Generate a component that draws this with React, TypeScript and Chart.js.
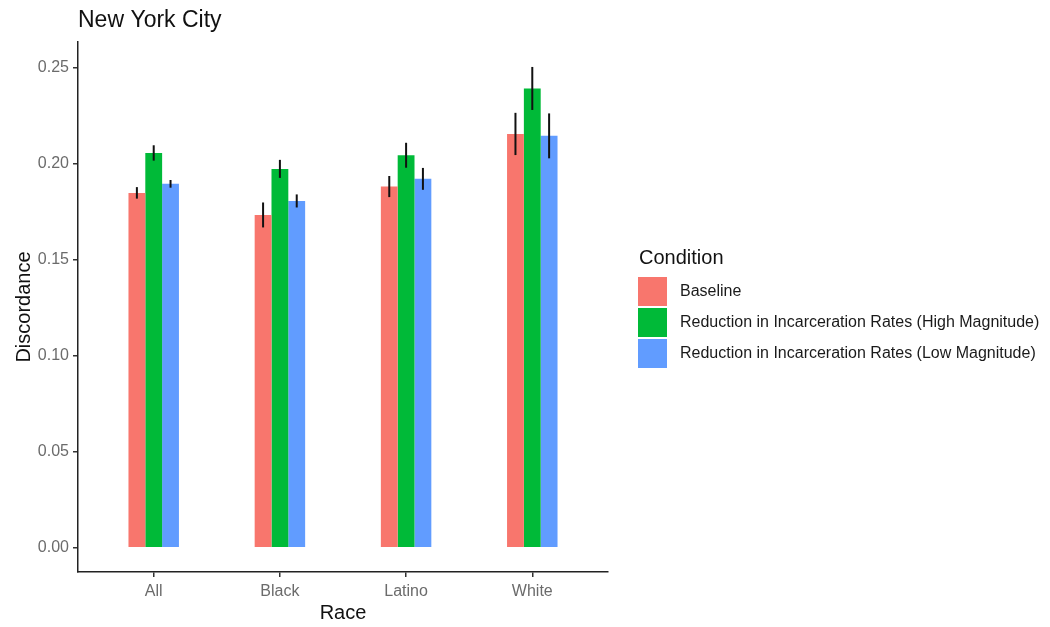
import React, { useEffect, useRef } from "react";
import { Chart, registerables } from "chart.js";

Chart.register(...registerables);

const categories = ["All", "Black", "Latino", "White"];
const seriesLabels = [
  "Baseline",
  "Reduction in Incarceration Rates (High Magnitude)",
  "Reduction in Incarceration Rates (Low Magnitude)",
];
const seriesColors = ["#F8766D", "#00BA38", "#619CFF"];
const baselineValues = [0.1849, 0.1734, 0.1882, 0.2156];
const highValues = [0.2057, 0.1974, 0.2045, 0.2393];
const lowValues = [0.1896, 0.1807, 0.1922, 0.2146];
const baselineErr = [0.0030, 0.0065, 0.0055, 0.0110];
const highErr = [0.0040, 0.0047, 0.0065, 0.0112];
const lowErr = [0.0020, 0.0034, 0.0057, 0.0117];
const yTicks = [0, 0.05, 0.1, 0.15, 0.2, 0.25];
const chartTitle = "New York City";
const xTitle = "Race";
const yTitle = "Discordance";
const legendTitle = "Condition";

const FONT = "'Liberation Sans', Arial, sans-serif";

const errorBarPlugin = {
  id: "errorBars",
  afterDatasetsDraw(chart: any) {
    const ctx = chart.ctx;
    const yScale = chart.scales.y;
    chart.data.datasets.forEach((ds: any, i: number) => {
      const meta = chart.getDatasetMeta(i);
      meta.data.forEach((el: any, j: number) => {
        const v = ds.data[j].y;
        const e = ds.errors[j];
        ctx.save();
        ctx.strokeStyle = "#111";
        ctx.lineWidth = 2;
        ctx.beginPath();
        ctx.moveTo(el.x, yScale.getPixelForValue(v + e));
        ctx.lineTo(el.x, yScale.getPixelForValue(v - e));
        ctx.stroke();
        ctx.restore();
      });
    });
  },
};

const decorPlugin = {
  id: "decor",
  afterDraw(chart: any) {
    const ctx = chart.ctx;
    ctx.save();
    ctx.fillStyle = "#111";
    ctx.font = `23px ${FONT}`;
    ctx.textBaseline = "middle";
    ctx.textAlign = "left";
    ctx.fillText(chartTitle, chart.chartArea.left, 21);
    ctx.font = `20px ${FONT}`;
    ctx.fillText(legendTitle, 639, 258);
    const keyX = 638;
    const keyY0 = 277;
    const keyH = 31;
    chart.data.datasets.forEach((ds: any, i: number) => {
      const y = keyY0 + i * keyH;
      ctx.fillStyle = ds.backgroundColor;
      ctx.fillRect(keyX, y, 29, 29);
      ctx.fillStyle = "#1a1a1a";
      ctx.font = `16px ${FONT}`;
      ctx.fillText(ds.label, 680, y + 15);
    });
    ctx.restore();
  },
};

export default function App() {
  const ref = useRef<HTMLCanvasElement>(null);
  useEffect(() => {
    document.body.style.margin = "0";
    const values = [baselineValues, highValues, lowValues];
    const errs = [baselineErr, highErr, lowErr];
    const chart = new Chart(ref.current as HTMLCanvasElement, {
      type: "bar",
      data: {
        datasets: seriesLabels.map((label, i) => ({
          label,
          data: categories.map((_, j) => ({ x: j + 1, y: values[i][j] })),
          errors: errs[i],
          backgroundColor: seriesColors[i],
          borderWidth: 0,
          categoryPercentage: 0.4,
          barPercentage: 1,
        })) as any,
      },
      options: {
        animation: false,
        responsive: false,
        devicePixelRatio: 1,
        layout: { padding: { top: 42, right: 442, left: 12, bottom: 0 } },
        plugins: { legend: { display: false }, tooltip: { enabled: false } },
        scales: {
          x: {
            type: "linear",
            offset: false,
            min: 0.4,
            max: 4.6,
            afterBuildTicks: (s: any) => {
              s.ticks = categories.map((_, i) => ({ value: i + 1 }));
            },
            afterFit: (s: any) => {
              s.height = 55;
            },
            ticks: {
              callback: (v: any) => categories[Math.round(v) - 1] ?? "",
              color: "#6b6b6b",
              font: { family: FONT, size: 16 },
              padding: 5,
              maxRotation: 0,
            },
            grid: {
              display: true,
              offset: false,
              drawOnChartArea: false,
              drawTicks: true,
              tickLength: 5,
              color: "#333",
              lineWidth: 1.5,
            },
            border: { display: true, color: "#222", width: 1.5 },
            title: {
              display: true,
              text: xTitle,
              color: "#111",
              font: { family: FONT, size: 20 },
              padding: { top: 0, bottom: 2 },
            },
          },
          y: {
            type: "linear",
            min: -0.0126,
            max: 0.2635,
            afterBuildTicks: (s: any) => {
              s.ticks = yTicks.map((v) => ({ value: v }));
            },
            afterFit: (s: any) => {
              s.width = 66;
            },
            ticks: {
              callback: (v: any) => Number(v).toFixed(2),
              color: "#6b6b6b",
              font: { family: FONT, size: 16 },
              padding: 4,
            },
            grid: {
              display: true,
              drawOnChartArea: false,
              drawTicks: true,
              tickLength: 5,
              color: "#333",
              lineWidth: 1.5,
            },
            border: { display: true, color: "#222", width: 1.5 },
            title: {
              display: true,
              text: yTitle,
              color: "#111",
              font: { family: FONT, size: 20 },
              padding: { top: 0, bottom: 0 },
            },
          },
        },
      } as any,
      plugins: [errorBarPlugin, decorPlugin],
    });
    return () => chart.destroy();
  }, []);
  return (
    <canvas
      ref={ref}
      width={1050}
      height={627}
      style={{ display: "block", width: 1050, height: 627 }}
    />
  );
}
